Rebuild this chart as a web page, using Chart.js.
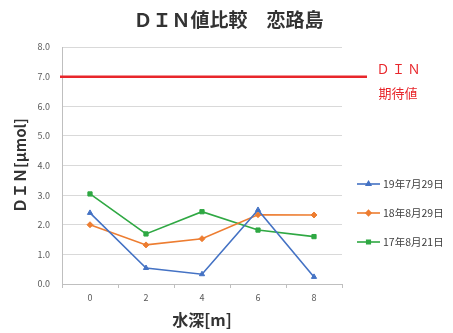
<!DOCTYPE html>
<html>
<head>
<meta charset="utf-8">
<script src="https://cdn.jsdelivr.net/npm/chart.js@4"></script>
<style>
  html, body { margin: 0; padding: 0; background: #fff; }
  #wrap { width: 453px; height: 333px; }
</style>
</head>
<body>
<div id="wrap"><canvas id="dinChart" width="453" height="333"></canvas></div>
<script>
// ----------------------------
// DATA
// ----------------------------
const depths = ['0', '2', '4', '6', '8'];
const din190729 = [2.40, 0.54, 0.33, 2.50, 0.24];
const din180829 = [2.00, 1.32, 1.53, 2.34, 2.33];
const din170821 = [3.04, 1.69, 2.44, 1.82, 1.60];
const dinTarget = 7.0;
const seriesLabels = ['19年7月29日', '18年8月29日', '17年8月21日'];
const targetLabel = ['ＤＩＮ', '期待値'];
const chartTitle = 'ＤＩＮ値比較　恋路島';

const FONT = '"Noto Sans CJK JP", "Noto Sans", sans-serif';

// ----------------------------
// TITLE (centred on the whole canvas, not the plot)
// ----------------------------
const pageTitle = {
  id: 'pageTitle',
  afterDraw(chart) {
    const { ctx, width } = chart;
    ctx.save();
    ctx.fillStyle = '#333333';
    ctx.font = 'bold 19px ' + FONT;
    ctx.textAlign = 'center';
    ctx.textBaseline = 'middle';
    ctx.fillText(chartTitle, width / 2 + 2, 20);
    ctx.restore();
  }
};

// ----------------------------
// TARGET LINE (runs past the plot edge)
// ----------------------------
const targetLine = {
  id: 'targetLine',
  afterDatasetsDraw(chart) {
    const { ctx, chartArea, scales } = chart;
    const y = scales.y.getPixelForValue(dinTarget);
    ctx.save();
    ctx.strokeStyle = '#e8262b';
    ctx.lineWidth = 2.5;
    ctx.beginPath();
    ctx.moveTo(chartArea.left - 2, y);
    ctx.lineTo(chartArea.right + 25, y);
    ctx.stroke();

    ctx.fillStyle = '#e8262b';
    ctx.textAlign = 'center';
    ctx.textBaseline = 'middle';
    ctx.font = '13px ' + FONT;
    const letters = Array.from(targetLabel[0]);
    letters.forEach((ch, i) => ctx.fillText(ch, chartArea.right + 41 + i * 15.5, y - 8));
    ctx.fillText(targetLabel[1], chartArea.right + 56, y + 16);
    ctx.restore();
  }
};

// ----------------------------
// LEGEND (right side)
// ----------------------------
const sideLegend = {
  id: 'sideLegend',
  afterDraw(chart) {
    const { ctx, chartArea } = chart;
    const x0 = chartArea.right + 15;
    ctx.save();
    ctx.font = '10.5px ' + FONT;
    ctx.textBaseline = 'middle';
    ctx.textAlign = 'left';
    chart.data.datasets.forEach((ds, i) => {
      const y = 184 + i * 29;
      ctx.strokeStyle = ds.borderColor;
      ctx.lineWidth = 1.6;
      ctx.beginPath();
      ctx.moveTo(x0, y);
      ctx.lineTo(x0 + 23, y);
      ctx.stroke();
      ctx.fillStyle = ds.backgroundColor;
      Chart.helpers.drawPoint(ctx, {
        pointStyle: ds.pointStyle, radius: 2.5, borderWidth: 1
      }, x0 + 11.5, y);
      ctx.fillStyle = '#404040';
      ctx.fillText(ds.label, x0 + 26, y);
    });
    ctx.restore();
  }
};

function series(label, data, color, style) {
  return {
    label,
    data,
    borderColor: color,
    backgroundColor: color,
    borderWidth: 1.6,
    pointStyle: style,
    pointRadius: 3,
    pointBorderWidth: 1,
    tension: 0
  };
}

const ctx = document.getElementById('dinChart').getContext('2d');
new Chart(ctx, {
  type: 'line',
  data: {
    labels: depths,
    datasets: [
      series(seriesLabels[0], din190729, '#4472c4', 'triangle'),
      series(seriesLabels[1], din180829, '#ed7d31', 'rectRot'),
      series(seriesLabels[2], din170821, '#2fa843', 'rect')
    ]
  },
  options: {
    responsive: false,
    animation: false,
    layout: { padding: { top: 47, right: 111, bottom: 0, left: 0 } },
    plugins: {
      legend: { display: false },
      tooltip: { enabled: false },
      title: { display: false }
    },
    scales: {
      x: {
        offset: true,
        afterFit: (s) => { s.height = 49; },
        grid: {
          offset: true,
          drawOnChartArea: false,
          drawTicks: true,
          tickLength: 4,
          color: '#bfbfbf'
        },
        border: { display: true, color: '#bfbfbf' },
        ticks: {
          color: '#595959',
          padding: 4,
          font: { family: FONT, size: 9 }
        },
        title: {
          display: true,
          text: '水深[m]',
          color: '#333333',
          font: { family: FONT, size: 16, weight: 'bold' },
          padding: { top: 0, bottom: 3.4 }
        }
      },
      y: {
        min: 0,
        max: 8,
        afterFit: (s) => { s.width = 62; },
        grid: {
          color: '#d9d9d9',
          drawTicks: false
        },
        border: { display: true, color: '#bfbfbf' },
        ticks: {
          stepSize: 1,
          color: '#595959',
          padding: 12,
          font: { family: FONT, size: 9 },
          callback: (v) => v.toFixed(1)
        },
        title: {
          display: true,
          text: 'ＤＩＮ[µmol]',
          color: '#333333',
          font: { family: FONT, size: 15, weight: 'bold' },
          padding: { top: 11, bottom: 0 }
        }
      }
    }
  },
  plugins: [pageTitle, targetLine, sideLegend]
});
</script>
</body>
</html>
